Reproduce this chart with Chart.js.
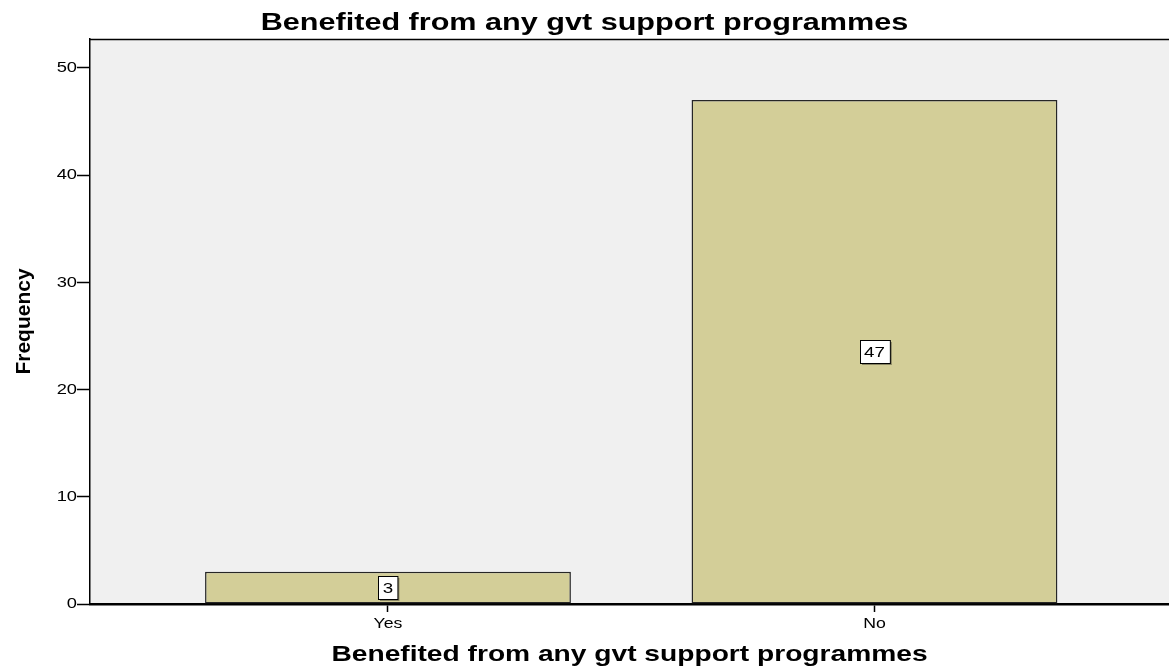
<!DOCTYPE html>
<html>
<head>
<meta charset="utf-8">
<script src="https://cdn.jsdelivr.net/npm/chart.js@4/dist/chart.umd.min.js"></script>
<style>
  html, body { margin: 0; padding: 0; background: #ffffff; }
  #wrap { width: 1169px; height: 668px; position: relative; }
</style>
</head>
<body>
<div id="wrap"><canvas id="chart"></canvas></div>
<script>
// Answers and their counts
const categories = ['Yes', 'No'];
const frequencies = [3, 47];
const yTicks = [0, 10, 20, 30, 40, 50];

const chartTitle = 'Benefited from any gvt support programmes';
const xTitle = 'Benefited from any gvt support programmes';
const yTitle = 'Frequency';

const FONT = '"Liberation Sans", Arial, sans-serif';

// Draw text widened horizontally around its anchor point
function stretchedFill(ctx, fill, sx) {
  return function (text, x, y) {
    this.save();
    this.translate(x, y);
    this.scale(sx, 1);
    fill.call(this, text, 0, 0);
    this.restore();
  };
}

// Make one drawing method of a chart element render wide text
function withStretch(obj, method, sx) {
  const flag = '__stretched_' + method;
  if (!obj || obj[flag]) return;
  const original = obj[method];
  obj[method] = function (...args) {
    const ctx = this.ctx;
    const fill = CanvasRenderingContext2D.prototype.fillText;
    ctx.fillText = stretchedFill(ctx, fill, sx);
    try {
      return original.apply(this, args);
    } finally {
      delete ctx.fillText;
    }
  };
  obj[flag] = true;
}

const wideText = {
  id: 'wideText',
  beforeRender(chart) {
    withStretch(chart.titleBlock, 'draw', 1.33);
    const x = chart.scales.x, y = chart.scales.y;
    withStretch(x, 'drawLabels', 1.18);
    withStretch(y, 'drawLabels', 1.22);
    withStretch(x, 'drawTitle', 1.28);
  }
};

// Plot background and top frame line
const frame = {
  id: 'frame',
  beforeDraw(chart) {
    const { ctx, chartArea: a } = chart;
    ctx.save();
    ctx.fillStyle = '#f0f0f0';
    ctx.fillRect(a.left, a.top, a.right - a.left, a.bottom - a.top);
    ctx.restore();
  },
  afterDraw(chart) {
    const { ctx, chartArea: a } = chart;
    ctx.save();
    ctx.strokeStyle = '#000';
    ctx.lineWidth = 1.5;
    ctx.beginPath();
    ctx.moveTo(a.left, a.top + 0.5);
    ctx.lineTo(a.right, a.top + 0.5);
    ctx.stroke();
    ctx.restore();
  }
};

// Boxed count labels in the middle of each bar
const countLabels = {
  id: 'countLabels',
  afterDatasetsDraw(chart) {
    const { ctx } = chart;
    const meta = chart.getDatasetMeta(0);
    const sx = 1.25;
    ctx.save();
    ctx.font = '15px ' + FONT;
    ctx.textAlign = 'center';
    ctx.textBaseline = 'middle';
    meta.data.forEach((bar, i) => {
      const text = String(frequencies[i]);
      const cx = bar.x;
      const cy = (bar.y + bar.base) / 2;
      const w = ctx.measureText(text).width * sx + 9;
      const h = 23;
      const x0 = Math.round(cx - w / 2) + 0.5;
      const y0 = Math.round(cy - h / 2) + 0.5;
      ctx.fillStyle = 'rgba(0,0,0,0.35)';
      ctx.fillRect(x0 + 1.5, y0 + 1.5, w, h);
      ctx.fillStyle = '#ffffff';
      ctx.fillRect(x0, y0, w, h);
      ctx.strokeStyle = '#000';
      ctx.lineWidth = 1;
      ctx.strokeRect(x0, y0, w, h);
      ctx.fillStyle = '#000';
      ctx.save();
      ctx.translate(cx, cy + 1);
      ctx.scale(sx, 1);
      ctx.fillText(text, 0, 0);
      ctx.restore();
    });
    ctx.restore();
  }
};

new Chart(document.getElementById('chart'), {
  type: 'bar',
  data: {
    datasets: [{
      data: categories.map((c, i) => ({ x: i + 1, y: frequencies[i] })),
      backgroundColor: '#d3ce98',
      borderColor: '#262626',
      borderWidth: 1.5,
      borderSkipped: false,
      categoryPercentage: 1,
      barPercentage: 0.752
    }]
  },
  options: {
    responsive: true,
    maintainAspectRatio: false,
    animation: false,
    layout: { padding: { left: 0, right: 0, top: 0, bottom: 0 } },
    plugins: {
      legend: { display: false },
      tooltip: { enabled: false },
      title: {
        display: true,
        text: chartTitle,
        color: '#000',
        font: { family: FONT, size: 23, weight: 'bold', lineHeight: 1.2 },
        padding: { top: 10, bottom: 1.4 }
      }
    },
    scales: {
      x: {
        type: 'linear',
        offset: false,
        min: 0.3875,
        max: 2.6054,
        afterBuildTicks(scale) {
          scale.ticks = categories.map((c, i) => ({ value: i + 1 }));
        },
        afterFit(scale) { scale.height = 64; },
        ticks: {
          autoSkip: false,
          color: '#000',
          font: { family: FONT, size: 15 },
          padding: 3,
          maxRotation: 0,
          callback: (v) => categories[v - 1] || ''
        },
        grid: {
          offset: false,
          drawOnChartArea: false,
          drawTicks: true,
          tickLength: 8,
          tickColor: '#000',
          tickWidth: 1.5
        },
        border: { display: true, color: '#000', width: 2.5 },
        title: {
          display: true,
          text: xTitle,
          color: '#000',
          font: { family: FONT, size: 22, weight: 'bold', lineHeight: 1.2 },
          padding: { top: 0, bottom: 0 }
        }
      },
      y: {
        min: 0,
        max: 52.7,
        afterBuildTicks(scale) {
          scale.ticks = yTicks.map(v => ({ value: v }));
        },
        afterFit(scale) { scale.width = 90; },
        ticks: {
          color: '#000',
          font: { family: FONT, size: 15 },
          padding: 0
        },
        grid: {
          drawOnChartArea: false,
          drawTicks: true,
          tickLength: 13,
          tickColor: '#000',
          tickWidth: 1.5
        },
        border: { display: true, color: '#000', width: 1.5 },
        title: {
          display: true,
          text: yTitle,
          color: '#000',
          font: { family: FONT, size: 21, weight: 'bold', lineHeight: 1.2 },
          padding: { top: 12, bottom: 0 }
        }
      }
    }
  },
  plugins: [wideText, frame, countLabels]
});
</script>
</body>
</html>
